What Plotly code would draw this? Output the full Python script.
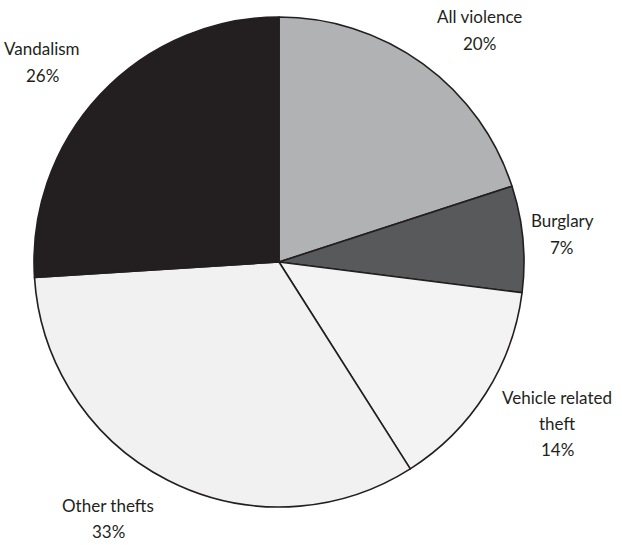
import plotly.graph_objects as go

# Share of offences by category (percent)
categories = ["All violence", "Burglary", "Vehicle related theft", "Other thefts", "Vandalism"]
shares = [20, 7, 14, 33, 26]
slice_colors = ["#b1b2b4", "#58595b", "#f3f3f3", "#f1f1f1", "#231f20"]

# Label text broken over lines, and where each label's first line sits (pixel centre)
label_lines = {
    "All violence": ["All violence"],
    "Burglary": ["Burglary"],
    "Vehicle related theft": ["Vehicle related", "theft"],
    "Other thefts": ["Other thefts"],
    "Vandalism": ["Vandalism"],
}
label_pos = {
    "All violence": (480, 17),
    "Burglary": (562, 221),
    "Vehicle related theft": (557, 397),
    "Other thefts": (108, 505),
    "Vandalism": (42, 49),
}
LINE_STEP = 26

W, H = 622, 545
cx, cy, r = 279, 262, 245

fig = go.Figure(go.Pie(
    labels=categories,
    values=shares,
    sort=False,
    direction="clockwise",
    rotation=0,
    marker=dict(colors=slice_colors, line=dict(color="#231f20", width=1.6)),
    textinfo="none",
    hoverinfo="label+percent",
    showlegend=False,
    domain=dict(x=[(cx - r) / W, (cx + r) / W], y=[1 - (cy + r) / H, 1 - (cy - r) / H]),
))

for cat, val in zip(categories, shares):
    x, y = label_pos[cat]
    lines = label_lines[cat] + [f"{val}%"]
    for i, line in enumerate(lines):
        fig.add_annotation(
            x=x / W, y=1 - (y + i * LINE_STEP) / H, xref="paper", yref="paper",
            text=line, showarrow=False, align="center",
            xanchor="center", yanchor="middle",
            font=dict(family="Lato", size=17, color="#231f20"),
        )

fig.update_layout(
    width=W, height=H,
    margin=dict(l=0, r=0, t=0, b=0),
    paper_bgcolor="white",
    plot_bgcolor="white",
)

fig.write_html("out.html")
